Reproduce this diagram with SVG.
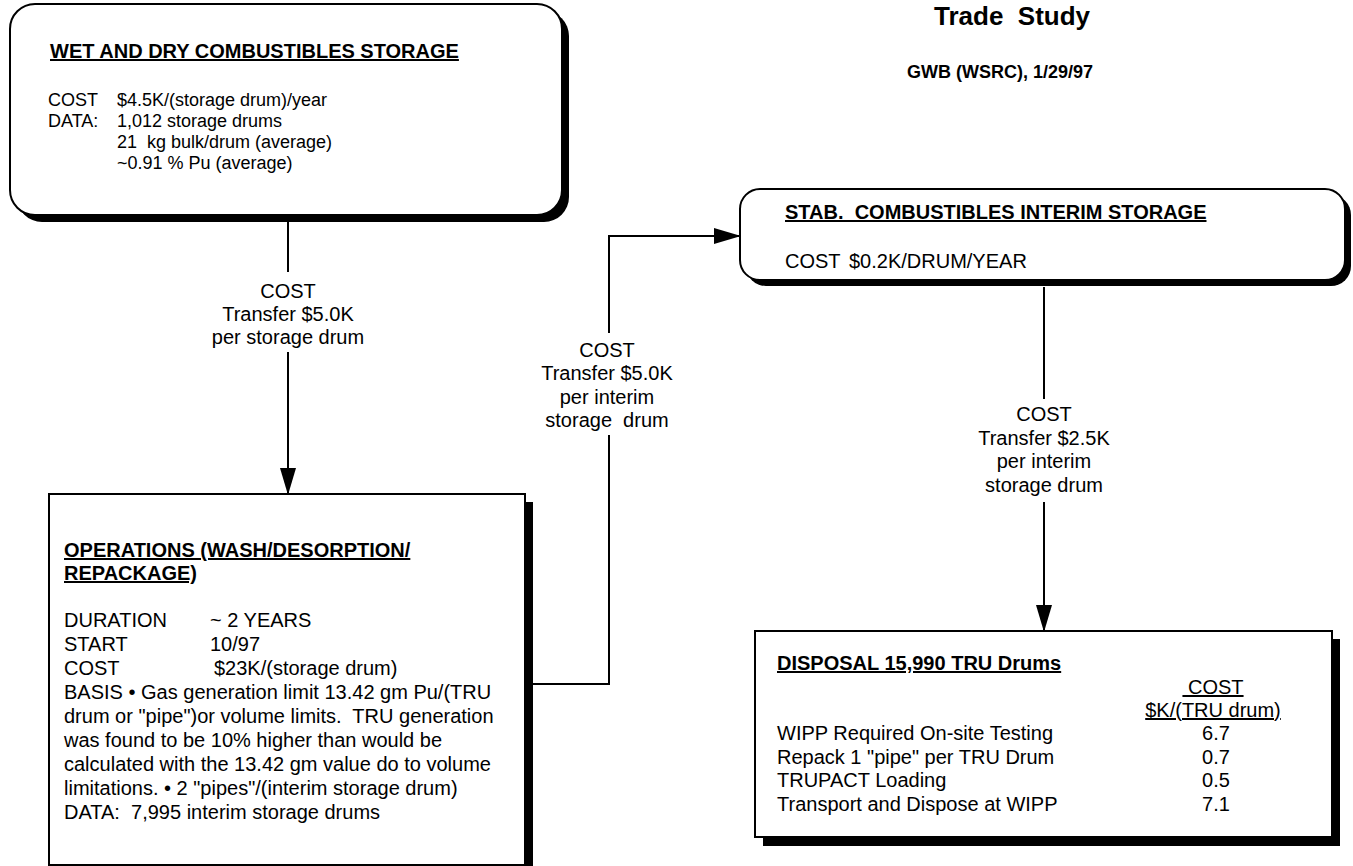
<svg xmlns="http://www.w3.org/2000/svg" width="1353" height="866" viewBox="0 0 1353 866">
<style>
.box{fill:#fff;stroke:#000;stroke-width:2}
.sh{fill:#000}
.t{font-family:"Liberation Sans",Arial,sans-serif;font-size:20px;fill:#000;white-space:pre}
.s{font-size:18px}
.h{font-weight:bold;text-decoration:underline}
.u{text-decoration:underline}
.c{text-anchor:middle}
.conn{stroke:#000;stroke-width:2;fill:none}
</style>
<defs>
<marker id="arr" markerUnits="userSpaceOnUse" markerWidth="27" markerHeight="16" refX="26" refY="8" orient="auto">
<path d="M0,0 L27,8 L0,16 Z" fill="#000"/>
</marker>
</defs>
<rect width="1353" height="866" fill="#fff"/>

<g id="title">
<text class="t c" x="1012" y="25" style="font-size:26px;font-weight:bold">Trade  Study</text>
<text class="t c" x="1000" y="78" style="font-size:18px;font-weight:bold">GWB (WSRC), 1/29/97</text>
</g>

<g id="wet-dry-storage">
<rect class="sh" x="17" y="11" width="552" height="211" rx="25"/>
<rect class="box" x="10" y="4" width="552" height="211" rx="25"/>
<text class="t h" x="50" y="58">WET AND DRY COMBUSTIBLES STORAGE</text>
<text class="t s" x="48" y="106">COST</text><text class="t s" x="117" y="106">$4.5K/(storage drum)/year</text>
<text class="t s" x="48" y="127">DATA:</text><text class="t s" x="117" y="127">1,012 storage drums</text>
<text class="t s" x="117" y="148">21  kg bulk/drum (average)</text>
<text class="t s" x="117" y="169">~0.91 % Pu (average)</text>
</g>

<g id="operations">
<rect class="sh" x="57" y="502" width="476" height="380"/>
<rect class="box" x="49" y="494" width="476" height="371"/>
<text class="t h" x="64" y="557">OPERATIONS (WASH/DESORPTION/</text>
<text class="t h" x="64" y="580">REPACKAGE)</text>
<text class="t" x="64" y="627">DURATION</text><text class="t" x="210" y="627">~ 2 YEARS</text>
<text class="t" x="64" y="651">START</text><text class="t" x="210" y="651">10/97</text>
<text class="t" x="64" y="675">COST</text><text class="t" x="214" y="675">$23K/(storage drum)</text>
<text class="t" x="64" y="699">BASIS • Gas generation limit 13.42 gm Pu/(TRU</text>
<text class="t" x="64" y="723">drum or "pipe")or volume limits.  TRU generation</text>
<text class="t" x="64" y="747">was found to be 10% higher than would be</text>
<text class="t" x="64" y="771">calculated with the 13.42 gm value do to volume</text>
<text class="t" x="64" y="795">limitations. • 2 "pipes"/(interim storage drum)</text>
<text class="t" x="64" y="819">DATA:  7,995 interim storage drums</text>
</g>

<g id="stab-interim-storage">
<rect class="sh" x="746" y="195" width="605" height="91" rx="20"/>
<rect class="box" x="740" y="189" width="605" height="91" rx="20"/>
<text class="t h" x="785" y="219">STAB.  COMBUSTIBLES INTERIM STORAGE</text>
<text class="t" x="785" y="268">COST</text><text class="t" x="849" y="268">$0.2K/DRUM/YEAR</text>
</g>

<g id="disposal">
<rect class="sh" x="763" y="639" width="577" height="207"/>
<rect class="box" x="755" y="631" width="577" height="206"/>
<text class="t h" x="777" y="670">DISPOSAL 15,990 TRU Drums</text>
<text class="t u c" x="1213" y="694"> COST</text>
<text class="t u c" x="1213" y="717">$K/(TRU drum)</text>
<text class="t" x="777" y="740">WIPP Required On-site Testing</text><text class="t c" x="1216" y="740">6.7</text>
<text class="t" x="777" y="764">Repack 1 "pipe" per TRU Drum</text><text class="t c" x="1216" y="764">0.7</text>
<text class="t" x="777" y="787">TRUPACT Loading</text><text class="t c" x="1216" y="787">0.5</text>
<text class="t" x="777" y="811">Transport and Dispose at WIPP</text><text class="t c" x="1216" y="811">7.1</text>
</g>

<g id="connectors">
<path class="conn" d="M288,222 V272"/>
<path class="conn" d="M288,352 V494" marker-end="url(#arr)"/>
<text class="t c" x="288" y="298">COST</text>
<text class="t c" x="288" y="321">Transfer $5.0K</text>
<text class="t c" x="288" y="344">per storage drum</text>

<path class="conn" d="M533,684 H609 V435"/>
<path class="conn" d="M609,333 V236 H740" marker-end="url(#arr)"/>
<text class="t c" x="607" y="357">COST</text>
<text class="t c" x="607" y="380">Transfer $5.0K</text>
<text class="t c" x="607" y="404">per interim</text>
<text class="t c" x="607" y="427">storage  drum</text>

<path class="conn" d="M1044,287 V399"/>
<path class="conn" d="M1044,502 V631" marker-end="url(#arr)"/>
<text class="t c" x="1044" y="421">COST</text>
<text class="t c" x="1044" y="445">Transfer $2.5K</text>
<text class="t c" x="1044" y="468">per interim</text>
<text class="t c" x="1044" y="492">storage drum</text>
</g>
</svg>
